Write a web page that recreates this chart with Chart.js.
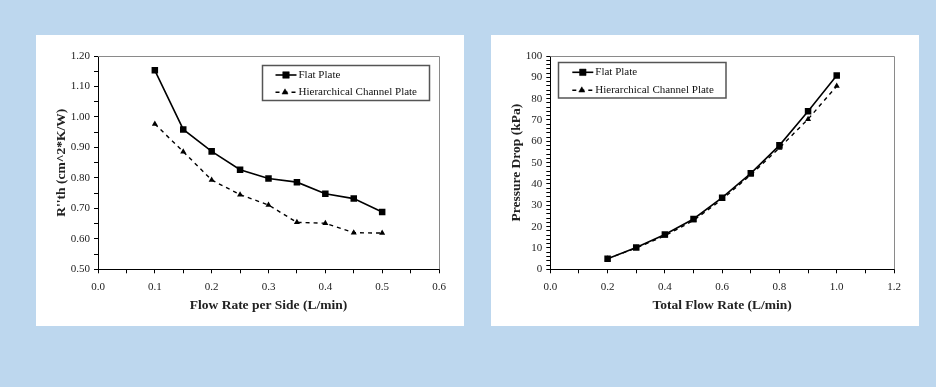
<!DOCTYPE html>
<html>
<head>
<meta charset="utf-8">
<script src="https://cdn.jsdelivr.net/npm/chart.js@4"></script>
<style>
    body { margin: 0; background: #bdd7ee; width: 936px; height: 387px; position: relative; overflow: hidden; }
    .panel { position: absolute; top: 35px; width: 428px; height: 291px; background: #fff; }
    #leftPanel { left: 36px; }
    #rightPanel { left: 491px; }
    canvas { display: block; }
</style>
</head>
<body>
<div class="panel" id="leftPanel"><canvas id="rthChart" width="428" height="291"></canvas></div>
<div class="panel" id="rightPanel"><canvas id="pressureChart" width="428" height="291"></canvas></div>
<script>
// Data - left chart (thermal resistance)
const flowPerSide = [0.1, 0.15, 0.2, 0.25, 0.3, 0.35, 0.4, 0.45, 0.5];
const rthFlat = [1.153, 0.959, 0.887, 0.827, 0.798, 0.786, 0.748, 0.732, 0.688];
const rthHier = [0.977, 0.886, 0.793, 0.745, 0.711, 0.654, 0.651, 0.620, 0.619];

// Data - right chart (pressure drop)
const totalFlow = [0.2, 0.3, 0.4, 0.5, 0.6, 0.7, 0.8, 0.9, 1.0];
const dpFlat = [5.0, 10.2, 16.3, 23.6, 33.6, 45.0, 58.1, 74.1, 90.9];
const dpHier = [5.0, 10.0, 15.7, 22.9, 32.8, 44.3, 56.9, 70.4, 85.9];

// Axis ranges: [min, max, tick step, ticks per label, decimals]
const rthXAxis = [0, 0.6, 0.05, 2, 1];
const rthYAxis = [0.5, 1.2, 0.05, 2, 2];
const dpXAxis = [0, 1.2, 0.1, 2, 1];
const dpYAxis = [0, 100, 2, 5, 0];

const seriesNames = ['Flat Plate', 'Hierarchical Channel Plate'];

Chart.defaults.font.family = "'Liberation Serif', 'Times New Roman', serif";
Chart.defaults.color = '#111';

// Grey frame on top/right of the plot
const framePlugin = {
    id: 'frame',
    afterDraw(chart) {
        const { ctx, chartArea: a } = chart;
        ctx.save();
        ctx.strokeStyle = '#8a8a8a';
        ctx.lineWidth = 1;
        ctx.beginPath();
        ctx.moveTo(a.left, a.top + 0.5);
        ctx.lineTo(a.right + 0.5, a.top + 0.5);
        ctx.lineTo(a.right + 0.5, a.bottom);
        ctx.stroke();
        ctx.restore();
    }
};

// Boxed legend drawn inside the plot
const boxLegendPlugin = {
    id: 'boxLegend',
    afterDraw(chart, args, opts) {
        const { ctx } = chart;
        const [bx, by, bw, bh] = opts.box;
        ctx.save();
        ctx.strokeStyle = '#555';
        ctx.lineWidth = 1.5;
        ctx.fillStyle = '#fff';
        ctx.fillRect(bx, by, bw, bh);
        ctx.strokeRect(bx, by, bw, bh);

        chart.data.datasets.forEach((ds, i) => {
            const y = opts.rows[i];
            const x0 = bx + opts.lineStart;
            const x1 = x0 + 21;
            ctx.strokeStyle = '#000';
            ctx.fillStyle = '#000';
            ctx.lineWidth = ds.borderWidth;
            ctx.setLineDash(ds.borderDash || []);
            ctx.beginPath();
            ctx.moveTo(x0, y);
            ctx.lineTo(x1, y);
            ctx.stroke();
            ctx.setLineDash([]);
            ctx.lineWidth = 0.5;
            Chart.helpers.drawPoint(ctx, {
                pointStyle: ds.pointStyle,
                radius: ds.pointRadius,
                borderWidth: 0.5
            }, (x0 + x1) / 2 + (i ? -1 : 0), y);
            ctx.fillStyle = '#111';
            ctx.font = "11px 'Liberation Serif', serif";
            ctx.textBaseline = 'middle';
            ctx.fillText(ds.label, x1 + 2, y);
        });
        ctx.restore();
    }
};

function axisConfig(range, title, isY, size) {
    const [min, max, step, every, decimals] = range;
    return {
        type: 'linear',
        min: min,
        max: max,
        grid: {
            drawOnChartArea: false,
            tickLength: 4,
            tickColor: '#000'
        },
        border: { color: '#000', width: 1 },
        ticks: {
            stepSize: step,
            autoSkip: false,
            maxRotation: 0,
            padding: isY ? 4 : 7,
            color: '#222',
            font: { size: 11 },
            callback: (v, i) => (i % every === 0 ? Number(v).toFixed(decimals) : '')
        },
        title: {
            display: true,
            text: title,
            color: '#222',
            font: { size: 13.5, weight: 'bold' },
            padding: 0
        },
        afterFit: scale => {
            if (isY) scale.width = size;
            else scale.height = size;
        }
    };
}

function makeChart(canvasId, xs, flat, hier, xRange, yRange, xTitle, yTitle, yWidth, legendOpts) {
    const ctx = document.getElementById(canvasId).getContext('2d');
    return new Chart(ctx, {
        type: 'line',
        data: {
            datasets: [
                {
                    label: seriesNames[0],
                    data: xs.map((x, i) => ({ x: x, y: flat[i] })),
                    borderColor: '#000',
                    backgroundColor: '#000',
                    borderWidth: 1.6,
                    pointStyle: 'rect',
                    pointRadius: 4.6,
                    pointBorderWidth: 0,
                    tension: 0
                },
                {
                    label: seriesNames[1],
                    data: xs.map((x, i) => ({ x: x, y: hier[i] })),
                    borderColor: '#000',
                    backgroundColor: '#000',
                    borderWidth: 1.4,
                    borderDash: [4, 4],
                    pointStyle: 'triangle',
                    pointRadius: 3.5,
                    pointBorderWidth: 0,
                    tension: 0
                }
            ]
        },
        options: {
            responsive: false,
            animation: false,
            devicePixelRatio: 1,
            layout: { padding: { left: 17, top: 21, right: 25, bottom: 12.5 } },
            plugins: {
                legend: { display: false },
                tooltip: { enabled: false },
                boxLegend: legendOpts
            },
            scales: {
                x: axisConfig(xRange, xTitle, false, 291 - 21 - 12.5 - 213.3),
                y: axisConfig(yRange, yTitle, true, yWidth)
            }
        },
        plugins: [framePlugin, boxLegendPlugin]
    });
}

makeChart('rthChart', flowPerSide, rthFlat, rthHier, rthXAxis, rthYAxis,
    'Flow Rate per Side (L/min)', "R''th (cm^2*K/W)", 45,
    { box: [226.5, 30.5, 167, 35], rows: [40, 57.3], lineStart: 13 });

makeChart('pressureChart', totalFlow, dpFlat, dpHier, dpXAxis, dpYAxis,
    'Total Flow Rate (L/min)', 'Pressure Drop (kPa)', 42.3,
    { box: [67.5, 27.5, 167.5, 35.5], rows: [37.3, 55.3], lineStart: 13.8 });
</script>
</body>
</html>
